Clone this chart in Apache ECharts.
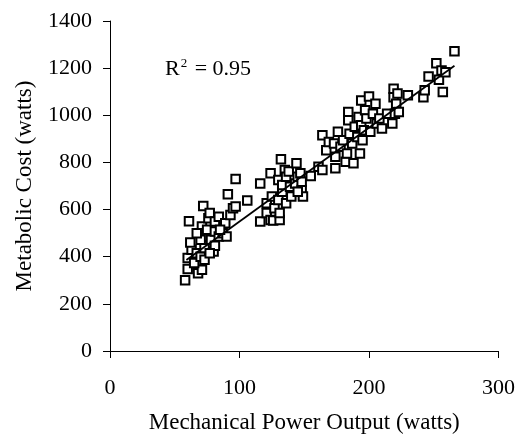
<!DOCTYPE html>
<html>
<head>
<meta charset="utf-8">
<script src="https://cdn.jsdelivr.net/npm/echarts@6/dist/echarts.min.js"></script>
<style>
  html, body { margin: 0; padding: 0; background: #fff; }
  #chart { width: 528px; height: 439px; }
</style>
</head>
<body>
<div id="chart"></div>
<script>
// mechanical power output (watts)
var powerX = [58, 61, 60, 60, 63, 62, 68, 71, 65, 67, 70, 73, 72, 71, 72, 73, 75, 76, 77, 78,
  80, 81, 81, 81, 84, 84, 87, 89, 90, 93, 91, 95, 97, 97, 70, 67, 77, 85, 106,
  116, 116, 121, 121, 124, 124, 125, 126, 127, 130, 130, 131, 132, 131, 133, 133, 135, 136, 136, 138,
  139, 140, 143, 144, 145, 147, 148, 149, 148, 145, 155, 161, 164, 164, 167, 169, 173, 174, 174, 176,
  178, 180, 182, 183, 184, 184, 185, 187, 188, 189, 191, 192, 193, 194, 194, 195, 196, 197, 198, 200,
  201, 203, 205, 206, 208, 210, 214, 218, 219, 219, 220, 221, 222, 223, 230, 242, 243, 246, 252, 254,
  256, 257, 259, 266]
// metabolic cost (watts)
var costY = [300, 550, 348, 395, 430, 460, 330, 345, 373, 415, 400, 387, 615, 528, 485, 437, 514, 563, 585, 472,
  422, 446, 549, 507, 570, 486, 500, 542, 486, 577, 665, 606, 613, 730, 472, 500, 415, 514, 638,
  711, 549, 627, 585, 754, 556, 655, 554, 606, 725, 641, 556, 813, 585, 676, 704, 768, 739, 627, 761,
  697, 655, 711, 796, 739, 754, 683, 655, 718, 676, 742, 782, 768, 915, 852, 887, 880, 775, 824, 930,
  866, 894, 803, 838, 1014, 979, 922, 880, 796, 951, 908, 993, 838, 1063, 958, 894, 937, 1021, 986, 1080,
  930, 1007, 1049, 965, 986, 944, 1007, 965, 1077, 1113, 1007, 1049, 1092, 1014, 1085, 1077, 1106, 1165, 1221, 1151,
  1190, 1099, 1183, 1272]
// regression line end points
var fitX = [59, 266]
var fitY = [386, 1210]
var xTicks = [0, 100, 200, 300]
var yTicks = [0, 200, 400, 600, 800, 1000, 1200, 1400]

var myChart = echarts.init(document.getElementById('chart'))
var serif = 'Liberation Serif'
var points = powerX.map(function (x, i) { return [x, costY[i]] })
var fit = fitX.map(function (x, i) { return [x, fitY[i]] })

myChart.setOption({
  animation: false,
  textStyle: { fontFamily: serif, color: '#000' },
  grid: { left: 110, right: 29.5, top: 21, bottom: 87 },
  xAxis: {
    type: 'value',
    min: xTicks[0],
    max: xTicks[xTicks.length - 1],
    interval: 100,
    name: 'Mechanical Power Output (watts)',
    nameLocation: 'middle',
    nameGap: 60,
    nameTextStyle: { fontFamily: serif, fontSize: 23, color: '#000' },
    axisLine: { lineStyle: { color: '#000', width: 1 } },
    axisTick: { show: true, length: 7, lineStyle: { color: '#000' } },
    axisLabel: { margin: 26, fontFamily: serif, fontSize: 22, color: '#000',
      formatter: function (v) { return String(v) } },
    splitLine: { show: false }
  },
  yAxis: {
    type: 'value',
    min: yTicks[0],
    max: yTicks[yTicks.length - 1],
    interval: 200,
    name: 'Metabolic Cost (watts)',
    nameLocation: 'middle',
    nameGap: 74,
    nameTextStyle: { fontFamily: serif, fontSize: 23, color: '#000' },
    axisLine: { show: true, lineStyle: { color: '#000', width: 1 } },
    axisTick: { show: true, length: 7, lineStyle: { color: '#000' } },
    axisLabel: { margin: 18, fontFamily: serif, fontSize: 22, color: '#000',
      formatter: function (v) { return String(v) } },
    splitLine: { show: false }
  },
  graphic: [{
    type: 'text',
    left: 165,
    top: 57,
    style: {
      text: '{b|R}{s|2}{b| = 0.95}',
      rich: {
        b: { fontFamily: serif, fontSize: 22, fill: '#000', verticalAlign: 'bottom' },
        s: { fontFamily: serif, fontSize: 13, fill: '#000', verticalAlign: 'top', padding: [0, 2, 10, 1] }
      }
    }
  }],
  series: [
    {
      type: 'scatter',
      symbol: 'rect',
      symbolSize: 8.5,
      itemStyle: { color: '#fff', borderColor: '#000', borderWidth: 2, opacity: 1 },
      data: points,
      z: 2
    },
    {
      type: 'line',
      symbol: 'none',
      lineStyle: { color: '#000', width: 1.8 },
      data: fit,
      z: 3
    }
  ]
})
</script>
</body>
</html>
